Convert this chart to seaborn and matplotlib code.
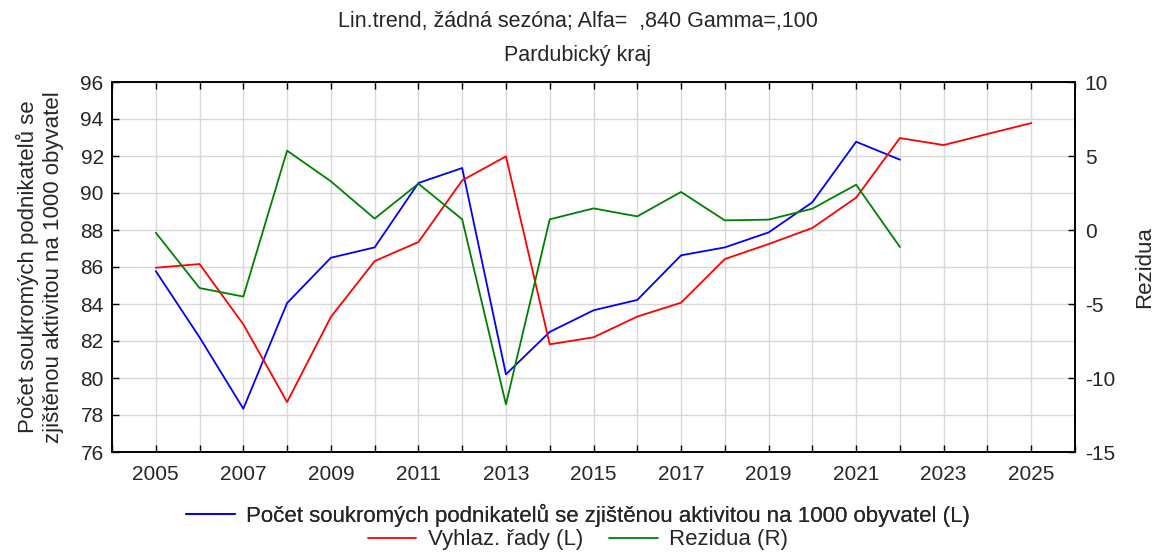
import numpy as np
import pandas as pd
import matplotlib
matplotlib.use("Agg")
import matplotlib.pyplot as plt
import seaborn as sns

years_obs = list(range(2005, 2023))
years_fc = list(range(2005, 2026))

pocet = [85.78, 82.2, 78.34, 84.05, 86.5, 87.06, 90.54, 91.35, 80.2, 82.49,
         83.66, 84.22, 86.63, 87.06, 87.87, 89.5, 92.77, 91.8]
vyhlaz = [85.96, 86.16, 82.9, 78.7, 83.3, 86.32, 87.35, 90.68, 91.98, 81.82,
          82.2, 83.32, 84.07, 86.43, 87.24, 88.11, 89.75, 92.97, 92.59, 93.19, 93.78]
rezidua = [-0.18, -3.92, -4.5, 5.36, 3.29, 0.77, 3.13, 0.72, -11.78, 0.72,
           1.46, 0.92, 2.57, 0.65, 0.70, 1.44, 3.06, -1.15]

title_1 = "Lin.trend, žádná sezóna; Alfa=  ,840 Gamma=,100"
title_2 = "Pardubický kraj"
lab_pocet = "Počet soukromých podnikatelů se zjištěnou aktivitou na 1000 obyvatel (L)"
lab_vyhlaz = "Vyhlaz. řady (L)"
lab_rez = "Rezidua (R)"
ylabel_left = "Počet soukromých podnikatelů se\nzjištěnou aktivitou na 1000 obyvatel"
ylabel_right = "Rezidua"

sns.set_theme(style="white")
plt.rcParams["font.family"] = ["Liberation Sans", "DejaVu Sans"]
plt.rcParams["axes.unicode_minus"] = False

fig = plt.figure(figsize=(11.56, 5.52), dpi=100)
ax = fig.add_axes([112 / 1156, 1 - 452 / 552, (1075 - 112) / 1156, (452 - 82) / 552])
ax2 = ax.twinx()

df_obs = pd.DataFrame({"rok": years_obs, "pocet": pocet, "rez": rezidua})
df_fc = pd.DataFrame({"rok": years_fc, "vyhlaz": vyhlaz})

sns.lineplot(data=df_obs, x="rok", y="pocet", ax=ax, color="#0000ff", lw=1.3, label=lab_pocet, legend=False)
sns.lineplot(data=df_fc, x="rok", y="vyhlaz", ax=ax, color="#ff0000", lw=1.3, label=lab_vyhlaz, legend=False)
sns.lineplot(data=df_obs, x="rok", y="rez", ax=ax2, color="#008000", lw=1.3, label=lab_rez, legend=False)

ax.set_xlim(2004, 2026)
ax.set_ylim(76, 96)
ax2.set_ylim(-15, 10)

ax.set_xticks(range(2005, 2026, 2))
ax.set_xticks(range(2004, 2027), minor=True)
ax.set_yticks(range(76, 97, 2))
ax2.set_yticks(range(-15, 11, 5))

ax.grid(True, which="both", axis="x", color="#d8d8d8", lw=1)
ax.grid(True, which="major", axis="y", color="#d8d8d8", lw=1)
ax.set_axisbelow(True)

fs = 15
ax.tick_params(axis="both", which="both", direction="in", length=5, width=1, color="black",
               labelsize=fs, top=True, bottom=True, left=True, right=False)
ax.tick_params(axis="x", which="minor", length=5)
ax.tick_params(axis="x", pad=9)
ax.tick_params(axis="y", pad=6)
ax2.tick_params(axis="y", direction="in", length=5, width=1, color="black", labelsize=fs, pad=7)

ax.set_xlabel("")
ax.set_ylabel(ylabel_left, fontsize=16, labelpad=12, linespacing=1.2)
ax2.set_ylabel(ylabel_right, fontsize=16, labelpad=14)

for a in (ax, ax2):
    for s in a.spines.values():
        s.set_color("black")
        s.set_linewidth(1.2)

fig.text(0.5, 1 - 22 / 552, title_1, ha="center", va="center", fontsize=15.5)
fig.text(0.5, 1 - 55 / 552, title_2, ha="center", va="center", fontsize=15.5)

h1, l1 = ax.get_legend_handles_labels()
h2, l2 = ax2.get_legend_handles_labels()
handles = dict(zip(l1 + l2, h1 + h2))

leg1 = fig.legend([handles[lab_pocet]], [lab_pocet], loc="center", bbox_to_anchor=(0.5, 1 - 515 / 552),
                  frameon=False, fontsize=16, handlelength=2.2, handletextpad=0.5)
leg2 = fig.legend([handles[lab_vyhlaz], handles[lab_rez]], [lab_vyhlaz, lab_rez], loc="center",
                  bbox_to_anchor=(0.5, 1 - 540 / 552), ncol=2, frameon=False, fontsize=16,
                  handlelength=2.2, handletextpad=0.5, columnspacing=1.2)
fig.add_artist(leg1)

fig.savefig("out.png", dpi=100)
